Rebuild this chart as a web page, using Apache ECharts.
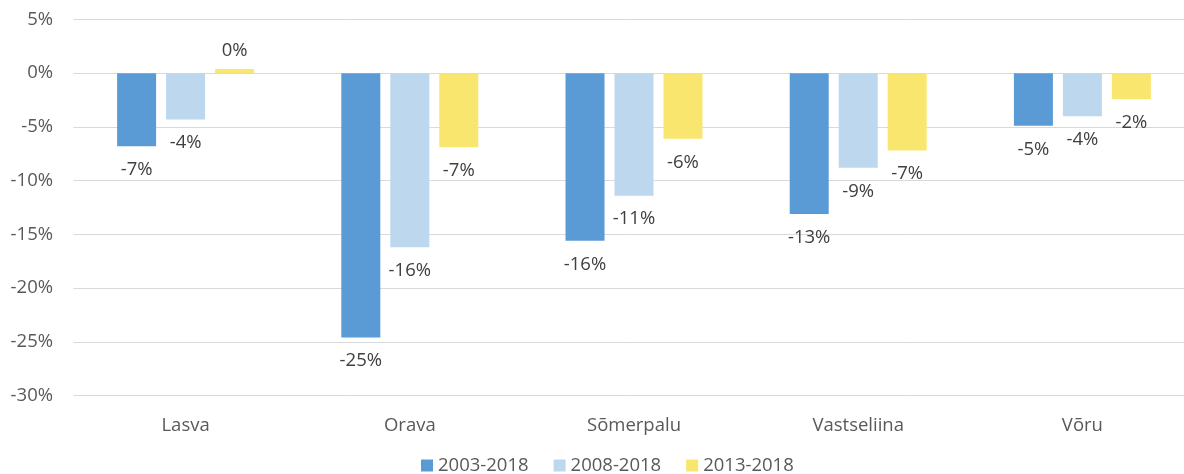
<!DOCTYPE html>
<html>
<head>
<meta charset="utf-8">
<script src="https://cdn.jsdelivr.net/npm/echarts@6/dist/echarts.min.js"></script>
<style>
html,body{margin:0;padding:0;background:#fff;}
#chart{width:1184px;height:474px;}
</style>
</head>
<body>
<div id="chart"></div>
<script>
const categories = ['Lasva', 'Orava', 'Sõmerpalu', 'Vastseliina', 'Võru'];
const seriesNames = ['2003-2018', '2008-2018', '2013-2018'];
const values2003 = [-6.8, -24.6, -15.6, -13.1, -4.9];
const values2008 = [-4.3, -16.2, -11.4, -8.8, -4.0];
const values2013 = [0.4, -6.9, -6.1, -7.2, -2.4];
const yTicks = { min: -30, max: 5, interval: 5 };
const colors = ['#5B9BD5', '#BDD7EE', '#F9E66F'];

const FONT = '"Open Sans", "Noto Sans", sans-serif';
const FS = 18.5;

function fmtPct(v) {
  const r = Math.sign(v) * Math.round(Math.abs(v));
  return (r === 0 ? 0 : r) + '%';
}
function toData(arr) {
  return arr.map(v => ({
    value: v,
    label: {
      position: v < 0 ? 'bottom' : 'top',
      distance: v < 0 ? 14 : 9
    }
  }));
}

const allValues = [values2003, values2008, values2013];

const chart = echarts.init(document.getElementById('chart'), null, { renderer: 'canvas' });
chart.setOption({
  animation: false,
  backgroundColor: '#fff',
  textStyle: { fontFamily: FONT },
  grid: { left: 73.5, width: 1121, top: 19.5, bottom: 78.5, containLabel: false, outerBoundsMode: 'none' },
  legend: {
    data: seriesNames,
    left: 421,
    top: 456,
    padding: 0,
    itemWidth: 12,
    itemHeight: 12,
    itemGap: 25,
    icon: 'rect',
    textStyle: { fontFamily: FONT, fontSize: FS, color: '#595959' }
  },
  xAxis: {
    type: 'category',
    data: categories,
    axisLine: { show: false, onZero: false },
    axisTick: { show: false },
    axisLabel: { margin: 20.5, fontFamily: FONT, fontSize: FS, color: '#595959' },
    splitLine: { show: false }
  },
  yAxis: {
    type: 'value',
    min: yTicks.min,
    max: yTicks.max,
    interval: yTicks.interval,
    axisLine: { show: false },
    axisTick: { show: false },
    axisLabel: { formatter: '{value}%', margin: 20.5, fontFamily: FONT, fontSize: FS, color: '#595959' },
    splitLine: { lineStyle: { color: '#D9D9D9', width: 1 } }
  },
  series: seriesNames.map((name, i) => ({
    name: name,
    type: 'bar',
    barWidth: 39,
    barGap: '25.6%',
    itemStyle: { color: colors[i] },
    label: {
      show: true,
      formatter: p => fmtPct(p.value),
      fontFamily: FONT,
      fontSize: FS,
      color: '#404040'
    },
    data: toData(allValues[i])
  }))
});
</script>
</body>
</html>
